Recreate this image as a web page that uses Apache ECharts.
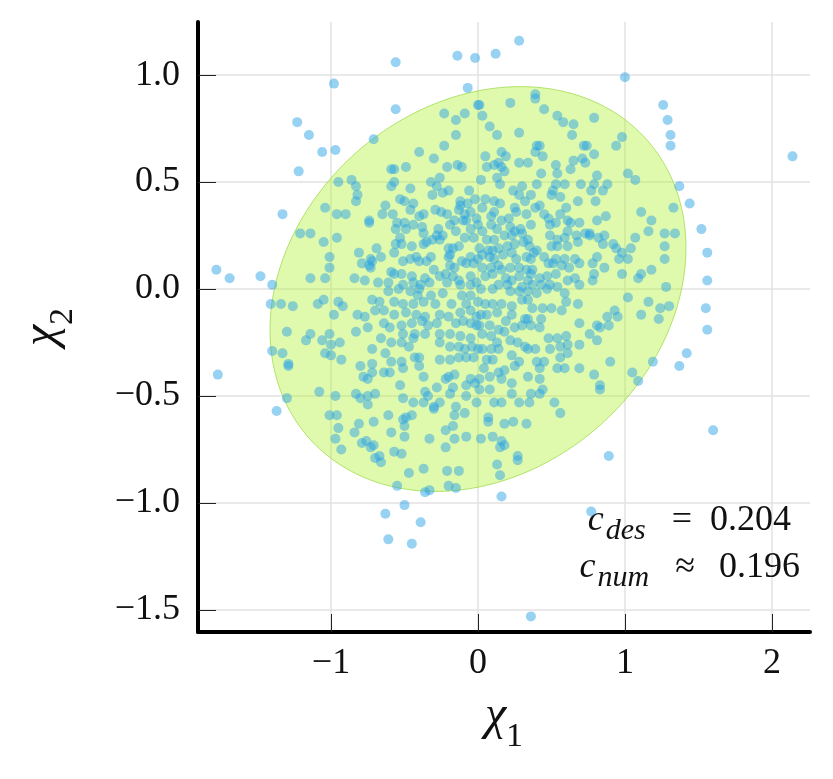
<!DOCTYPE html>
<html>
<head>
<meta charset="utf-8">
<title>chi scatter</title>
<script src="https://cdn.jsdelivr.net/npm/echarts@6.0.0/dist/echarts.min.js"></script>
<style>
  html, body { margin: 0; padding: 0; background: #fff; }
  #main { width: 833px; height: 779px; }
</style>
</head>
<body>
<div id="main"></div>
<script>
// axes
var xRange = [-1.905, 2.259];
var yRange = [-1.603, 1.248];
var xTicks = [-1, 0, 1, 2];
var yTicks = [-1.5, -1.0, -0.5, 0.0, 0.5, 1.0];

// ellipse (centre, spread along x / y, correlation)
var ellipseCenter = [0, 0];
var ellipseSpread = [1.415, 0.946];
var cDes = 0.204;
var cNum = 0.196;

// samples
var pointsOuter = [
  [0.28,1.16],[0.12,1.10],[-0.14,1.09],[-0.02,1.08],[-0.56,1.06],[-0.98,0.96],[1.00,0.99],
  [-1.23,0.78],[-1.15,0.72],[-1.06,0.64],[-0.97,0.65],[-1.22,0.55],[-1.33,0.35],[1.26,0.86],
  [1.29,0.79],[1.31,0.72],[1.31,0.67],[2.14,0.62],[1.37,0.48],[1.44,0.40],[1.52,0.28],
  [1.56,0.17],[1.56,0.04],[1.55,-0.09],[1.56,-0.19],[1.42,-0.30],[1.37,-0.36],[1.60,-0.66],
  [0.89,-0.78],[-1.78,0.09],[-1.69,0.05],[-1.48,0.06],[-1.77,-0.40],[-1.37,-0.57],[-0.50,-1.01],
  [-0.63,-1.05],[-0.39,-1.09],[-0.61,-1.17],[-0.45,-1.19],[0.36,-1.53],[0.77,-1.04],[0.16,-0.97],
  [-0.56,0.84],[-0.07,0.94],[-1.40,0.02]
];

var pointsUpperLeft = [
  [-0.23,0.82],[-0.09,0.82],[-0.15,0.79],[0.00,0.86],[-0.15,0.72],[-0.23,0.67],[-0.71,0.70],
  [-0.40,0.64],[-0.30,0.61],[-0.14,0.58],[-0.11,0.57],[-0.21,0.57],[-0.49,0.57],[-0.59,0.56],
  [-0.57,0.56],[-0.86,0.51],[-0.95,0.50],[-0.83,0.48],[-0.82,0.44],[-0.83,0.41],[-1.04,0.38],
  [-0.96,0.35],[-0.90,0.35],[-0.74,0.31],[-1.21,0.26],[-1.14,0.26],[-1.05,0.22],[-0.96,0.24],
  [-0.81,0.17],[-1.01,0.15],[-1.01,0.10],[-0.79,0.12],[-0.74,0.11],[-1.14,0.05],[-1.04,0.05],
  [-0.84,0.05],[-0.77,0.04],[-0.73,0.14],[-0.73,0.10],
  [-0.57,0.50],[-0.59,0.48],[-0.46,0.47],[-0.32,0.50],[-0.26,0.52],[-0.28,0.48],[-0.20,0.46],
  [-0.24,0.45],[-0.31,0.44],[-0.06,0.46],[-0.02,0.42],[-0.53,0.42],[-0.50,0.41],[-0.44,0.40],
  [-0.63,0.39],[-0.65,0.35],[-0.58,0.35],[-0.46,0.37],[-0.29,0.37],[-0.25,0.36],[-0.21,0.35],
  [-0.37,0.35],[-0.40,0.34],[-0.12,0.41],[-0.12,0.39],[-0.13,0.37],[-0.07,0.40],[-0.09,0.35],
  [-0.05,0.36],[-0.08,0.32],[-0.01,0.33],[-0.74,0.32],[-0.55,0.31],[-0.50,0.31],[-0.44,0.30],
  [-0.38,0.29],[-0.16,0.32],[-0.19,0.30],[-0.10,0.32],[-0.05,0.28],[-0.56,0.28],[-0.49,0.28],
  [-0.37,0.26],[-0.27,0.28],[-0.24,0.25],[-0.28,0.25],[-0.26,0.23],[-0.31,0.23],[-0.15,0.27],
  [-0.09,0.24],[-0.03,0.24],[-0.53,0.24],[-0.56,0.21],[-0.52,0.21],[-0.45,0.20],[-0.37,0.21],
  [-0.35,0.22],[-0.20,0.19],[-0.17,0.19],[-0.13,0.20],[-0.69,0.19],[-0.57,0.17],[-0.66,0.15],
  [-0.42,0.15],[-0.40,0.13],[-0.46,0.14],[-0.35,0.13],[-0.32,0.15],[-0.19,0.16],[-0.20,0.15],
  [-0.11,0.13],[-0.05,0.15],[-0.08,0.12],[-0.03,0.12],[-0.51,0.13],[-0.72,0.13],[-0.30,0.09],
  [-0.19,0.11],[-0.16,0.10],[-0.59,0.08],[-0.57,0.07],[-0.52,0.07],[-0.45,0.06],[-0.36,0.05],
  [-0.33,0.03],[-0.26,0.06],[-0.22,0.07],[-0.17,0.06],[-0.13,0.04],[-0.05,0.06],[-0.68,0.03],
  [-0.61,0.03],[-0.51,0.02],[-0.44,0.03],[-0.39,0.02],[-0.40,0.00],[-0.21,0.03],[-0.12,0.02],
  [-0.05,0.02],[-0.01,0.03]
];

var pointsUpperRight = [
  [0.01,0.86],[0.03,0.81],[0.22,0.87],[0.39,0.91],[0.39,0.89],[0.45,0.84],[0.54,0.81],
  [0.58,0.78],[0.65,0.77],[0.79,0.80],[0.08,0.76],[0.13,0.72],[0.28,0.73],[0.64,0.72],
  [0.40,0.67],[0.42,0.67],[0.72,0.67],[0.74,0.67],[0.79,0.63],[0.94,0.67],[0.98,0.71],
  [0.05,0.62],[0.16,0.64],[0.19,0.62],[0.39,0.64],[0.44,0.62],[0.06,0.57],[0.11,0.58],
  [0.14,0.59],[0.16,0.57],[0.28,0.59],[0.34,0.59],[0.53,0.58],[0.65,0.60],[0.63,0.56],
  [0.71,0.61],[0.73,0.59],[0.79,0.49],[0.81,0.53],[0.85,0.46],[0.88,0.49],[1.02,0.54],
  [1.07,0.51],[0.77,0.46],[0.80,0.41],[0.87,0.34],[0.81,0.32],[0.76,0.25],[0.82,0.24],
  [0.86,0.25],[0.85,0.21],[0.76,0.26],[1.11,0.36],[1.18,0.32],[1.16,0.27],[1.07,0.24],
  [1.04,0.19],[0.98,0.17],[0.94,0.19],[0.92,0.21],[0.96,0.14],[0.98,0.07],[1.02,0.14],
  [1.11,0.07],[1.09,0.05],[1.18,0.09],[1.27,0.26],[1.34,0.26],[1.27,0.20],[1.27,0.14],
  [1.28,0.01],[1.33,0.38],[0.79,0.07],[0.78,0.12],[0.81,0.15],[0.86,0.10],[0.78,0.04],
  [0.18,0.55],[0.13,0.52],[0.02,0.51],[0.15,0.49],[0.43,0.54],[0.54,0.54],[0.40,0.49],
  [0.53,0.49],[0.59,0.49],[0.70,0.49],[0.30,0.48],[0.24,0.46],[0.28,0.44],[0.36,0.44],
  [0.32,0.41],[0.51,0.46],[0.50,0.44],[0.56,0.43],[0.68,0.41],[0.05,0.42],[0.11,0.41],
  [0.15,0.40],[0.03,0.38],[0.11,0.36],[0.25,0.38],[0.26,0.36],[0.39,0.38],[0.42,0.39],
  [0.33,0.35],[0.45,0.35],[0.56,0.35],[0.60,0.38],[0.09,0.34],[0.16,0.32],[0.21,0.33],
  [0.00,0.30],[0.03,0.27],[0.09,0.30],[0.13,0.28],[0.22,0.29],[0.25,0.27],[0.29,0.28],
  [0.36,0.30],[0.48,0.33],[0.49,0.30],[0.53,0.31],[0.61,0.32],[0.63,0.31],[0.69,0.31],
  [0.61,0.27],[0.59,0.24],[0.67,0.25],[0.73,0.26],[0.06,0.23],[0.11,0.23],[0.18,0.25],
  [0.23,0.25],[0.30,0.26],[0.34,0.23],[0.49,0.25],[0.54,0.23],[0.01,0.19],[0.07,0.18],
  [0.10,0.18],[0.14,0.19],[0.20,0.20],[0.25,0.21],[0.31,0.22],[0.35,0.20],[0.38,0.17],
  [0.40,0.18],[0.50,0.20],[0.54,0.20],[0.61,0.20],[0.68,0.22],[0.00,0.14],[0.03,0.16],
  [0.08,0.15],[0.11,0.14],[0.17,0.16],[0.23,0.17],[0.26,0.14],[0.33,0.15],[0.36,0.14],
  [0.45,0.15],[0.53,0.14],[0.59,0.14],[0.66,0.14],[0.69,0.12],[0.03,0.10],[0.09,0.10],
  [0.14,0.11],[0.16,0.09],[0.22,0.10],[0.28,0.10],[0.33,0.09],[0.37,0.09],[0.48,0.12],
  [0.51,0.12],[0.57,0.11],[0.62,0.10],[0.05,0.06],[0.10,0.07],[0.19,0.05],[0.23,0.04],
  [0.28,0.06],[0.34,0.04],[0.36,0.07],[0.42,0.05],[0.47,0.06],[0.53,0.07],[0.61,0.04],
  [0.66,0.05],[0.14,0.02],[0.20,0.02],[0.30,0.01],[0.37,0.02],[0.43,0.02],[0.49,0.02],
  [0.54,0.01],[0.69,0.02]
];

var pointsLowerLeft = [
  [-1.41,-0.07],[-1.34,-0.07],[-1.26,-0.08],[-1.09,-0.07],[-1.05,-0.05],[-0.95,-0.06],
  [-0.92,-0.08],[-0.98,-0.12],[-0.82,-0.12],[-0.77,-0.13],[-0.75,-0.18],[-1.30,-0.20],
  [-1.14,-0.21],[-1.17,-0.24],[-1.06,-0.24],[-1.01,-0.21],[-1.00,-0.26],[-0.94,-0.25],
  [-0.83,-0.20],[-1.40,-0.29],[-1.33,-0.30],[-1.29,-0.35],[-1.29,-0.36],[-1.04,-0.30],
  [-1.00,-0.31],[-0.93,-0.33],[-0.80,-0.36],[-0.78,-0.41],[-0.75,-0.42],[-1.08,-0.48],
  [-0.97,-0.50],[-0.83,-0.49],[-0.80,-0.51],[-0.75,-0.50],[-0.75,-0.54],[-1.30,-0.51],
  [-1.01,-0.59],[-0.96,-0.59],[-0.95,-0.65],[-0.84,-0.67],[-0.81,-0.63],[-0.71,-0.62],
  [-0.61,-0.59],[-0.97,-0.70],[-0.93,-0.75],[-0.79,-0.72],[-0.76,-0.71],[-0.73,-0.74],
  [-0.71,-0.73],[-0.59,-0.67],[-0.51,-0.61],[-0.50,-0.64],[-0.50,-0.69],[-0.57,-0.76],
  [-0.52,-0.77],[-0.70,-0.79],[-0.67,-0.78],[-0.66,-0.81],[-0.47,-0.86],[-0.37,-0.84],
  [-0.33,-0.70],[-0.22,-0.74],[-0.21,-0.85],[-0.13,-0.85],[-0.16,-0.70],[-0.08,-0.69],
  [-0.22,-0.66],[-0.17,-0.64],[-0.09,-0.58],[-0.16,-0.59],[-0.55,-0.92],[-0.36,-0.95],
  [-0.33,-0.94],[-0.20,-0.92],[-0.15,-0.93],[-0.45,-0.59],[-0.49,-0.60],[-0.30,-0.56],
  [-0.61,-0.01],[-0.54,0.00],[-0.46,-0.01],[-0.41,-0.03],[-0.32,-0.03],[-0.24,-0.02],
  [-0.11,-0.03],[-0.05,-0.03],[-0.72,-0.05],[-0.67,-0.06],[-0.57,-0.06],[-0.51,-0.07],
  [-0.44,-0.07],[-0.37,-0.06],[-0.29,-0.07],[-0.18,-0.07],[-0.08,-0.07],[-0.70,-0.10],
  [-0.64,-0.10],[-0.57,-0.12],[-0.49,-0.11],[-0.42,-0.12],[-0.36,-0.13],[-0.26,-0.12],
  [-0.20,-0.13],[-0.12,-0.11],[-0.05,-0.10],[-0.01,-0.13],[-0.64,-0.16],[-0.60,-0.18],
  [-0.52,-0.17],[-0.45,-0.16],[-0.38,-0.15],[-0.34,-0.17],[-0.28,-0.16],[-0.15,-0.16],
  [-0.10,-0.15],[-0.05,-0.16],[-0.01,-0.17],[-0.51,-0.21],[-0.43,-0.21],[-0.36,-0.21],
  [-0.26,-0.21],[-0.19,-0.21],[-0.12,-0.22],[-0.05,-0.23],[-0.66,-0.23],[-0.59,-0.25],
  [-0.52,-0.25],[-0.44,-0.23],[-0.47,-0.27],[-0.26,-0.25],[-0.19,-0.27],[-0.13,-0.27],
  [-0.09,-0.28],[-0.04,-0.27],[0.00,-0.28],[-0.72,-0.28],[-0.63,-0.30],[-0.43,-0.32],
  [-0.40,-0.32],[-0.26,-0.33],[-0.19,-0.33],[-0.13,-0.32],[-0.08,-0.32],[-0.03,-0.32],
  [-0.59,-0.34],[-0.52,-0.34],[-0.51,-0.37],[-0.72,-0.35],[-0.64,-0.39],[-0.60,-0.39],
  [-0.40,-0.36],[-0.37,-0.41],[-0.22,-0.42],[-0.20,-0.41],[-0.16,-0.40],[-0.05,-0.42],
  [-0.53,-0.45],[-0.72,-0.39],[-0.28,-0.46],[-0.17,-0.46],[-0.08,-0.45],[-0.02,-0.44],
  [-0.70,-0.49],[-0.51,-0.51],[-0.44,-0.53],[-0.37,-0.53],[-0.36,-0.48],[-0.34,-0.50],
  [-0.26,-0.53],[-0.19,-0.49],[-0.08,-0.50],[-0.01,-0.53],[-0.30,-0.55],[-0.15,-0.55]
];

var pointsLowerRight = [
  [1.02,-0.04],[1.16,-0.06],[1.24,-0.09],[1.30,-0.08],[1.23,-0.14],[1.11,-0.12],[0.93,-0.10],
  [0.95,-0.13],[0.88,-0.13],[0.89,-0.17],[0.81,-0.17],[0.83,-0.18],[0.76,-0.21],[0.81,-0.24],
  [0.90,-0.34],[1.05,-0.39],[1.09,-0.43],[0.79,-0.40],[0.83,-0.45],[0.83,-0.47],[1.19,-0.34],
  [0.56,-0.58],[0.07,-0.60],[0.07,-0.62],[0.18,-0.63],[0.24,-0.62],[0.33,-0.63],[0.10,-0.69],
  [0.02,-0.70],[0.16,-0.71],[0.15,-0.74],[0.18,-0.73],[0.27,-0.78],[0.27,-0.80],[0.13,-0.82],
  [0.15,-0.87],
  [0.02,0.00],[0.10,0.00],[0.22,-0.01],[0.28,-0.01],[0.34,-0.01],[0.40,-0.02],[0.47,0.00],
  [0.59,-0.02],[0.60,-0.06],[0.68,-0.07],[0.00,-0.06],[0.05,-0.07],[0.10,-0.07],[0.16,-0.07],
  [0.23,-0.08],[0.30,-0.05],[0.34,-0.05],[0.37,-0.09],[0.44,-0.09],[0.50,-0.09],[0.57,-0.10],
  [0.02,-0.12],[0.06,-0.12],[0.13,-0.11],[0.19,-0.15],[0.23,-0.12],[0.32,-0.14],[0.34,-0.14],
  [0.36,-0.17],[0.43,-0.14],[0.69,-0.16],[0.01,-0.17],[0.08,-0.17],[0.14,-0.19],[0.18,-0.20],
  [0.25,-0.18],[0.30,-0.17],[0.42,-0.18],[0.03,-0.21],[0.09,-0.22],[0.13,-0.25],[0.22,-0.24],
  [0.27,-0.25],[0.32,-0.27],[0.34,-0.28],[0.39,-0.28],[0.48,-0.23],[0.54,-0.23],[0.60,-0.22],
  [0.49,-0.28],[0.56,-0.27],[0.61,-0.26],[0.69,-0.26],[0.03,-0.28],[0.09,-0.28],[0.14,-0.28],
  [0.06,-0.33],[0.10,-0.33],[0.23,-0.31],[0.56,-0.32],[0.61,-0.30],[0.04,-0.37],[0.14,-0.39],
  [0.18,-0.38],[0.25,-0.36],[0.28,-0.34],[0.40,-0.34],[0.42,-0.37],[0.45,-0.34],[0.54,-0.37],
  [0.59,-0.37],[0.69,-0.37],[0.01,-0.42],[0.08,-0.41],[0.16,-0.42],[0.23,-0.44],[0.34,-0.41],
  [0.42,-0.42],[0.01,-0.47],[0.08,-0.47],[0.23,-0.49],[0.36,-0.49],[0.42,-0.49],[0.44,-0.47],
  [0.52,-0.53],[0.11,-0.53],[0.16,-0.53],[0.35,-0.53],[0.28,-0.53]
];

var samples = pointsOuter.concat(pointsUpperLeft, pointsUpperRight, pointsLowerLeft, pointsLowerRight);

var serif = "'Liberation Serif', 'DejaVu Serif', serif";
var ink = '#111';

function minus(v) {
  return String(v).replace('-', '\u2212');
}

// rich text pieces: main glyph on top, subscript pushed down by a taller box
function mathRich(mainSize, subSize, subBox) {
  return {
    m: { fontFamily: serif, fontStyle: 'italic', fontSize: mainSize, lineHeight: mainSize, verticalAlign: 'top', color: ink },
    s: { fontFamily: serif, fontSize: subSize, lineHeight: subBox, verticalAlign: 'bottom', color: ink }
  };
}

function annotRich(opPad, subPad) {
  return {
    c: { fontFamily: serif, fontStyle: 'italic', fontSize: 36, lineHeight: 36, verticalAlign: 'top', fill: ink },
    s: { fontFamily: serif, fontStyle: 'italic', fontSize: 30, lineHeight: 43, verticalAlign: 'bottom', fill: ink, padding: subPad },
    o: { fontFamily: serif, fontSize: 36, lineHeight: 36, verticalAlign: 'top', fill: ink, padding: opPad },
    n: { fontFamily: serif, fontSize: 36, lineHeight: 36, verticalAlign: 'top', fill: ink }
  };
}

var chart = echarts.init(document.getElementById('main'));

chart.setOption({
  animation: false,
  backgroundColor: '#fff',
  grid: { left: 198, right: 23, top: 22, bottom: 147, containLabel: false },
  xAxis: {
    type: 'value',
    min: xRange[0],
    max: xRange[1],
    name: '{m|\u03c7}{s|1}',
    nameLocation: 'middle',
    nameGap: 60,
    nameTextStyle: { rich: mathRich(48, 34, 62) },
    axisLine: { onZero: false, lineStyle: { color: '#000', width: 4 } },
    axisTick: { inside: true, length: 18, customValues: xTicks, lineStyle: { color: '#222', width: 1 } },
    axisLabel: {
      customValues: xTicks,
      margin: 14,
      fontFamily: serif,
      fontSize: 36,
      color: ink,
      formatter: function (v) { return minus(v); }
    },
    splitLine: { show: true, lineStyle: { color: '#e2e2e2', width: 1.5 } }
  },
  yAxis: {
    type: 'value',
    min: yRange[0],
    max: yRange[1],
    name: '{m|\u03c7}{s|2}',
    nameLocation: 'middle',
    nameGap: 118,
    nameTextStyle: { rich: mathRich(48, 34, 62) },
    axisLine: { onZero: false, lineStyle: { color: '#000', width: 4 } },
    axisTick: { inside: true, length: 18, customValues: yTicks, lineStyle: { color: '#222', width: 1 } },
    axisLabel: {
      customValues: yTicks,
      margin: 18,
      fontFamily: serif,
      fontSize: 36,
      color: ink,
      formatter: function (v) { return minus(v.toFixed(1)); }
    },
    splitLine: { show: true, lineStyle: { color: '#e2e2e2', width: 1.5 } }
  },
  graphic: [
    {
      type: 'text',
      right: 42,
      top: 503,
      z: 1,
      style: {
        text: '{c|c}{s|des}{o|=}{n|' + cDes.toFixed(3) + '}',
        rich: annotRich([0, 18, 0, 18], [0, 8, 0, 2])
      }
    },
    {
      type: 'text',
      right: 33,
      top: 550,
      z: 1,
      style: {
        text: '{c|c}{s|num}{o|\u2248}{n|' + cNum.toFixed(3) + '}',
        rich: annotRich([0, 24, 0, 18], [0, 8, 0, 2])
      }
    }
  ],
  series: [
    {
      // confidence ellipse: the outline follows from centre, spreads and cDes
      type: 'custom',
      coordinateSystem: 'cartesian2d',
      silent: true,
      z: 1,
      data: [ellipseCenter],
      renderItem: function (params, api) {
        var pts = [];
        var k = Math.sqrt(1 - cDes * cDes);
        for (var i = 0; i < 240; i++) {
          var t = i / 240 * Math.PI * 2;
          var x = ellipseCenter[0] + ellipseSpread[0] * Math.cos(t);
          var y = ellipseCenter[1] + ellipseSpread[1] * (cDes * Math.cos(t) + k * Math.sin(t));
          pts.push(api.coord([x, y]));
        }
        return {
          type: 'polygon',
          shape: { points: pts },
          style: { fill: 'rgba(178, 242, 60, 0.42)', stroke: 'rgba(150, 215, 60, 0.7)', lineWidth: 1 }
        };
      }
    },
    {
      type: 'scatter',
      z: 3,
      symbol: 'circle',
      symbolSize: 10,
      data: samples,
      itemStyle: { color: 'rgba(40, 160, 230, 0.6)' }
    }
  ]
});
</script>
</body>
</html>
